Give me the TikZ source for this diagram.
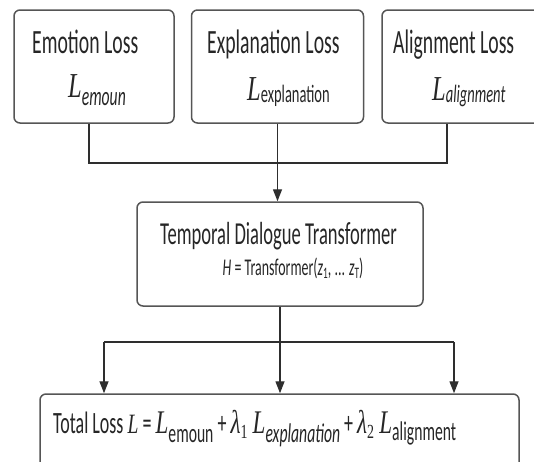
\documentclass[tikz,border=0pt]{standalone}
\usepackage{fontspec}
\setmainfont{Carlito}[FakeStretch=0.58]
\newfontfamily\serifL{Liberation Serif}[FakeStretch=0.7]
\usetikzlibrary{arrows.meta}
\definecolor{boxline}{HTML}{555555}
\definecolor{inkline}{HTML}{2E2E2E}
\definecolor{ink}{HTML}{262626}
\newcommand{\bigL}[1]{{\serifL\itshape\fontsize{#1}{#1}\selectfont L}}
\newcommand{\lam}[1]{{\serifL\itshape\fontsize{#1}{#1}\selectfont λ}}
\newcommand{\lowsub}[3]{\raisebox{-#1}{\fontsize{#2}{#2}\selectfont #3}}
\begin{document}
\begin{tikzpicture}[x=1pt, y=-1pt,
	lossbox/.style={draw=boxline, line width=1.5pt, rounded corners=6pt, inner sep=0pt},
	title/.style={anchor=base west, inner sep=0pt, text=ink, font=\fontsize{34}{34}\selectfont},
	formula/.style={anchor=base west, inner sep=0pt, text=ink},
	link/.style={draw=inkline, line width=1.4pt},
	arrow/.style={link, -{Triangle[length=12pt, width=9pt]}}]
\clip (0,0) rectangle (534,461);
% Verlust-Boxen oben
\node[lossbox, minimum width=160pt, minimum height=113pt] (emo) at (94,66.5) {};
\node[lossbox, minimum width=172pt, minimum height=113pt] (expl) at (277.5,66.5) {};
\node[lossbox, minimum width=170pt, minimum height=113pt] (align) at (467,66.5) {};
\node[title] (emo t) at (32,53) {Emotion Loss};
\node[formula] (emo f) at (68,97) {\bigL{35}\lowsub{8pt}{27}{\itshape emoun}};
\node[title] (expl t) at (207,53) {Explanation Loss};
\node[formula] (expl f) at (247,100) {\bigL{35}\lowsub{2pt}{25}{explanation}};
\node[title] (align t) at (393,53) {Alignment Loss};
\node[formula] (align f) at (432,100) {\bigL{35}\lowsub{2pt}{25}{\itshape alignment}};
% Transformer
\node[lossbox, minimum width=286pt, minimum height=104pt] (trans) at (280,254) {};
\node[formula, anchor=base, font=\fontsize{32}{32}\selectfont] (trans t) at (278.5,244) {Temporal Dialogue Transformer};
\node[formula, anchor=base, font=\fontsize{24}{24}\selectfont] (trans f) at (293,275)
	{\itshape H\upshape{} = Transformer(\itshape z\upshape\lowsub{3pt}{16}{1}, ...\,\itshape z\upshape\lowsub{3pt}{16}{T})};
% Gesamtverlust
\node[lossbox, minimum width=479pt, minimum height=100pt] (total) at (279.5,444) {};
\node[formula, font=\fontsize{31}{31}\selectfont] (total f) at (53,433)
	{Total Loss \bigL{28} = \bigL{33}\lowsub{9pt}{27}{emoun} + \lam{33}\lowsub{5pt}{20}{\serifL 1}\,\bigL{33}\lowsub{9pt}{27}{\itshape explanation} + \lam{33}\lowsub{5pt}{20}{\serifL 2}\,\bigL{33}\lowsub{7pt}{27}{alignment}};
% Verbindungen
\coordinate (top join) at (278,163);
\draw[link] ([xshift=-5pt]emo.south) |- (top join);
\draw[link] ([xshift=-20pt]align.south) |- (top join);
\draw[arrow] (expl.south) -- (expl.south |- trans.north);
\coordinate (fan l) at (104,342);
\coordinate (fan r) at (454,342);
\draw[link] (fan l) -- (fan r);
\draw[arrow] (trans.south) -- (trans.south |- total.north);
\draw[arrow] (fan l) -- (fan l |- total.north);
\draw[arrow] (fan r) -- (fan r |- total.north);
\end{tikzpicture}
\end{document}
